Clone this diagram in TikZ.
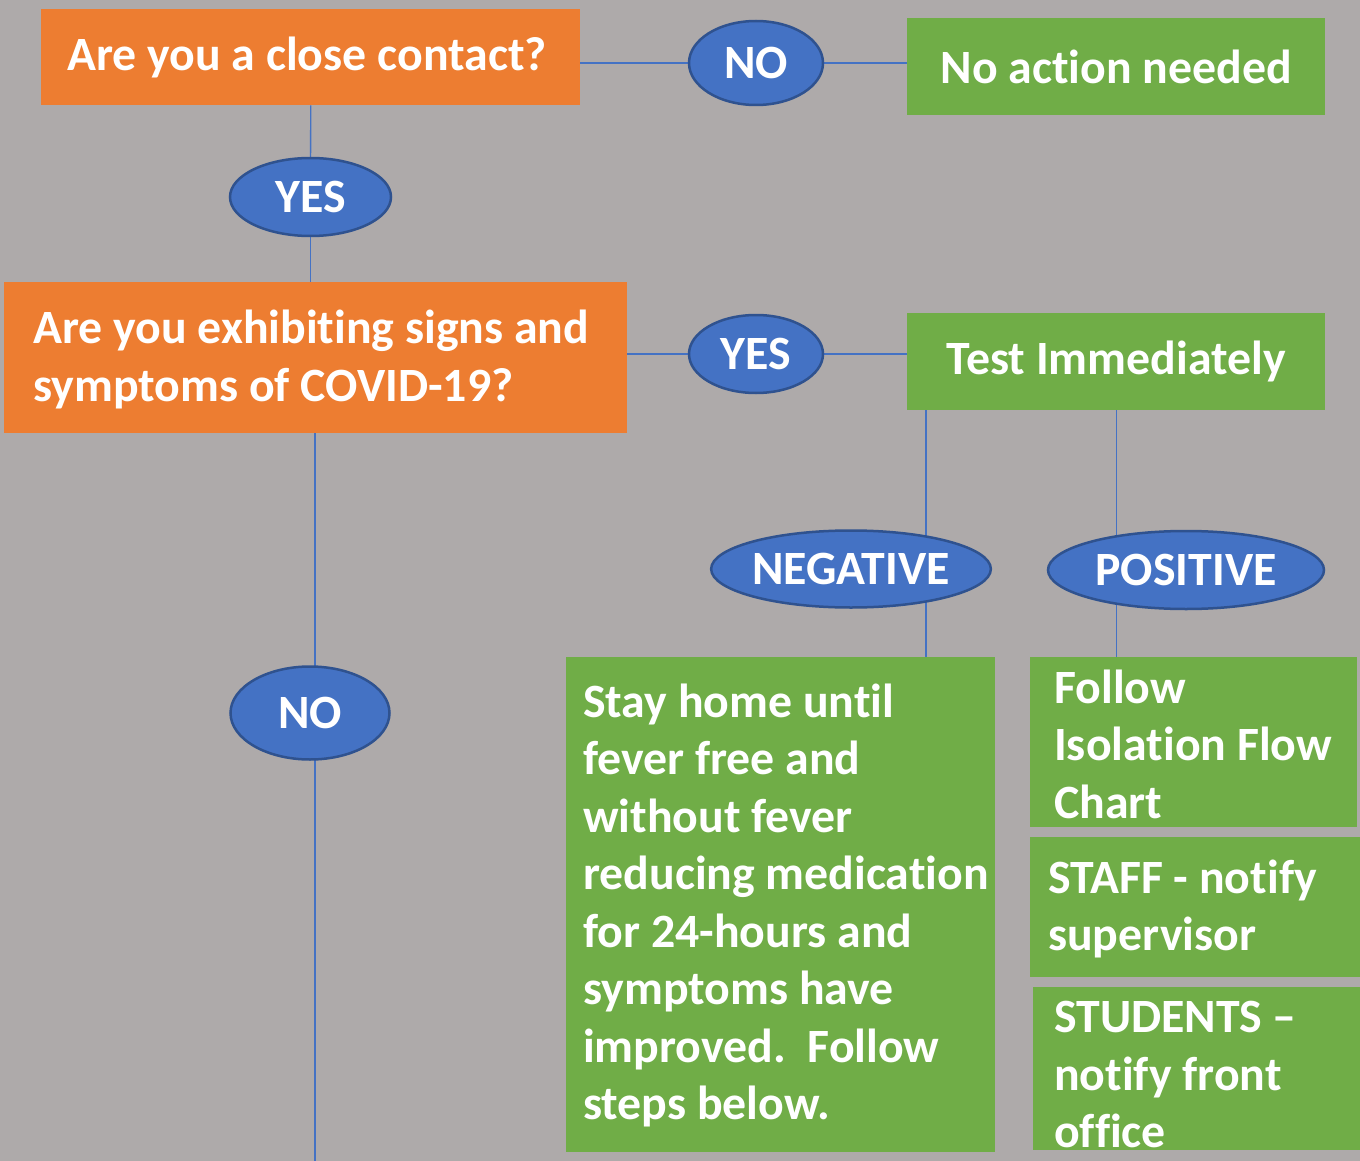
\documentclass[tikz,border=0pt]{standalone}
\usepackage{fontspec}
\setmainfont{Carlito}[Ligatures=NoCommon]
\usetikzlibrary{shapes.geometric,backgrounds}
\definecolor{bgC}{HTML}{AEAAAA}
\definecolor{orC}{HTML}{ED7D31}
\definecolor{grC}{HTML}{70AD47}
\definecolor{blC}{HTML}{4472C4}
\definecolor{bdC}{HTML}{2F528F}
\begin{document}
\begin{tikzpicture}[x=1pt,y=-1pt,
  txt/.style={text=white,font=\fontsize{47.8}{57.5}\selectfont\bfseries},
  btxt/.style={txt,align=left,anchor=west,inner sep=0pt},
  qbox/.style={txt,fill=orC,rectangle,inner sep=0pt,anchor=north west},
  gbox/.style={txt,fill=grC,rectangle,inner sep=0pt,anchor=north west},
  oval/.style={txt,ellipse,fill=blC,draw=bdC,line width=2.5pt,inner sep=0pt},
  conn/.style={draw=blC,line width=1.3pt}]
\useasboundingbox (0,0) rectangle (1360,1161);
% boxes
\node[qbox,minimum width=539pt,minimum height=96pt] (q1) at (41,9) {};
\node[btxt] (q1t) at ([xshift=26pt]q1.west) {Are you a close contact?};
\node[qbox,minimum width=623pt,minimum height=151pt] (q2) at (4,282) {};
\node[btxt] (q2t) at ([xshift=29pt,yshift=-2pt]q2.west) {Are you exhibiting signs and\\symptoms of COVID-19?};
\node[gbox,minimum width=418pt,minimum height=97pt] (none) at (907,18) {No action needed};
\node[gbox,minimum width=418pt,minimum height=97pt] (test) at (907,313) {Test Immediately};
\node[gbox,minimum width=429pt,minimum height=495pt] (stay) at (566,657) {};
\node[btxt] (stayt) at ([xshift=17pt,yshift=-1pt]stay.west) {Stay home until\\fever free and\\without fever\\reducing medication\\for 24-hours and\\symptoms have\\improved.\ \ Follow\\steps below.};
\node[gbox,minimum width=327pt,minimum height=170pt] (follow) at (1030,657) {};
\node[btxt] (followt) at ([xshift=24pt,yshift=-2pt]follow.west) {Follow\\Isolation Flow\\Chart};
\node[gbox,minimum width=330pt,minimum height=140pt] (staff) at (1030,837) {};
\node[btxt] (stafft) at ([xshift=18pt,yshift=-2pt]staff.west) {STAFF - notify\\supervisor};
\node[gbox,minimum width=327pt,minimum height=163pt] (stud) at (1033,987) {};
\node[btxt] (studt) at ([xshift=21pt,yshift=-6pt]stud.west) {STUDENTS –\\notify front\\office};
% ovals
\node[oval,minimum width=134pt,minimum height=84pt] (no1) at (756,63) {NO};
\node[oval,minimum width=161pt,minimum height=78pt] (yes1) at (310.5,197) {YES};
\node[oval,minimum width=134pt,minimum height=78pt] (yes2) at (756,354) {YES};
\node[oval,minimum width=276pt,minimum height=77pt] (neg) at (851,569) {NEGATIVE};
\node[oval,minimum width=276pt,minimum height=78pt] (pos) at (1186,570) {POSITIVE};
\node[oval,minimum width=159pt,minimum height=93pt] (no2) at (310,713) {NO};
\coordinate (endc) at (315,1161);
\coordinate (negtop) at ([xshift=19pt]test.south west);
% connectors
\begin{scope}[on background layer]
\fill[bgC] (0,0) rectangle (1360,1161);
\draw[conn] (no1.center -| q1.east) -- (no1.center);
\draw[conn] (no1.center) -- (no1.center -| none.west);
\draw[conn] (q1.south) -- (yes1.center);
\draw[conn] (yes1.center) -- (yes1.center |- q2.north);
\draw[conn] (yes2.center -| q2.east) -- (yes2.center);
\draw[conn] (yes2.center) -- (yes2.center -| test.west);
\draw[conn] (negtop) -- (negtop |- neg.center);
\draw[conn] (negtop |- neg.center) -- (negtop |- stay.north);
\draw[conn] (test.south) -- (test.south |- pos.center);
\draw[conn] (test.south |- pos.center) -- (test.south |- follow.north);
\draw[conn] (endc |- q2.south) -- (endc |- no2.center);
\draw[conn] (endc |- no2.center) -- (endc);
\end{scope}
\end{tikzpicture}
\end{document}
